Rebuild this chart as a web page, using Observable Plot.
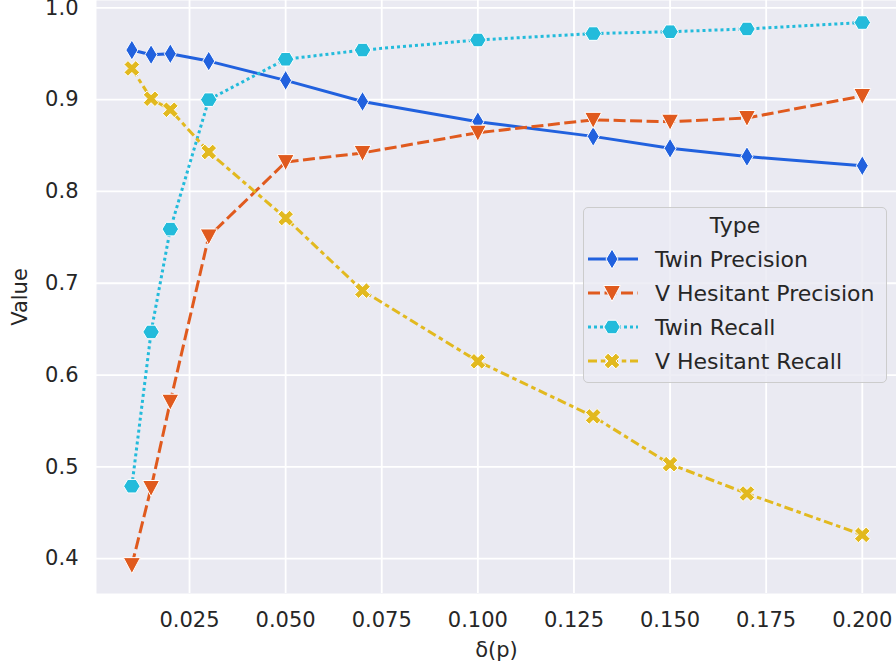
<!DOCTYPE html>
<html>
<head>
<meta charset="utf-8">
<script src="https://cdn.jsdelivr.net/npm/d3@7"></script>
<script src="https://cdn.jsdelivr.net/npm/@observablehq/plot@0.6"></script>
<style>
  html, body { margin: 0; padding: 0; background: #ffffff; }
  #wrap { position: relative; width: 896px; height: 670px; overflow: hidden; font-family: "DejaVu Sans", sans-serif; }
  #legend { position: absolute; left: 583px; top: 207px; width: 304px; height: 176px;
    background: rgba(234,234,242,0.8); border: 1px solid #cccccc; border-radius: 5px; box-sizing: border-box;
    color: #262626; font-size: 22px; }
  #legend .title { position: absolute; left: 0; width: 100%; top: 5px; text-align: center; }
  #legend .row { position: absolute; left: 3px; height: 30px; display: flex; align-items: center; }
  #legend .row svg { width: 52px; height: 30px; margin-right: 16px; }
</style>
</head>
<body>
<div id="wrap"><div id="legend"></div></div>
<script>
// ---- data ----
const deltas = [0.01, 0.015, 0.02, 0.03, 0.05, 0.07, 0.1, 0.13, 0.15, 0.17, 0.2];
const twinPrecision      = [0.954, 0.949, 0.950, 0.942, 0.921, 0.898, 0.876, 0.860, 0.847, 0.838, 0.828];
const vHesitantPrecision = [0.393, 0.477, 0.571, 0.751, 0.832, 0.842, 0.864, 0.878, 0.876, 0.880, 0.904];
const twinRecall         = [0.479, 0.647, 0.759, 0.900, 0.944, 0.954, 0.965, 0.972, 0.974, 0.977, 0.984];
const vHesitantRecall    = [0.934, 0.901, 0.889, 0.843, 0.771, 0.692, 0.615, 0.555, 0.503, 0.471, 0.426];
const seriesNames  = ["Twin Precision", "V Hesitant Precision", "Twin Recall", "V Hesitant Recall"];
const seriesValues = [twinPrecision, vHesitantPrecision, twinRecall, vHesitantRecall];
const seriesColors = ["#2161de", "#e05a1e", "#23bbdb", "#e2b91f"];
const seriesDashes = [null, "12,4.5", "3,3", "9,3.75,4.5,3.75"];
const xTicks = [0.025, 0.05, 0.075, 0.1, 0.125, 0.15, 0.175, 0.2];
const yTicks = [0.4, 0.5, 0.6, 0.7, 0.8, 0.9, 1.0];
const legendTitle = "Type";
const xLabel = "δ(p)";
const yLabel = "Value";

// ---- marker shapes ----
function poly(ctx, pts) { ctx.moveTo(pts[0][0], pts[0][1]); for (let i = 1; i < pts.length; i++) ctx.lineTo(pts[i][0], pts[i][1]); ctx.closePath(); }
const rOf = size => Math.sqrt(size / Math.PI);
const thinDiamond = { draw(ctx, size) { const s = rOf(size) / 8; poly(ctx, [[0,-10*s],[6*s,0],[0,10*s],[-6*s,0]]); } };
const triDown = { draw(ctx, size) { const s = rOf(size) / 8; poly(ctx, [[-8.5*s,-7.5*s],[8.5*s,-7.5*s],[0,8.5*s]]); } };
const hexFlat = { draw(ctx, size) { const r = rOf(size) * 1.03; const p = []; for (let k = 0; k < 6; k++) { const a = k*Math.PI/3; p.push([r*Math.cos(a), r*0.95*Math.sin(a)]); } poly(ctx, p); } };
const thickX = { draw(ctx, size) { const s = rOf(size) / 8; const a = 8.3*s, b = 2.8*s;
  const base = [[b,-b],[b,-a],[-b,-a],[-b,-b],[-a,-b],[-a,b],[-b,b],[-b,a],[b,a],[b,b],[a,b],[a,-b]];
  const c = Math.SQRT1_2; poly(ctx, base.map(([x,y]) => [c*(x - y), c*(x + y)])); } };
const seriesSymbols = [thinDiamond, triDown, hexFlat, thickX];

// ---- table ----
const rows = seriesNames.flatMap((name, i) => deltas.map((d, j) => ({ type: name, delta: d, value: seriesValues[i][j] })));

const marks = [
  Plot.frame({ fill: "#eaeaf2", stroke: null }),
  Plot.gridX(xTicks, { stroke: "#ffffff", strokeOpacity: 1, strokeWidth: 1.8 }),
  Plot.gridY(yTicks, { stroke: "#ffffff", strokeOpacity: 1, strokeWidth: 1.8 }),
  Plot.axisX(xTicks, { tickSize: 0, tickPadding: 18.5, tickFormat: d3.format(".3f"), label: null, fontSize: 21, fill: "#262626" }),
  Plot.axisY(yTicks, { tickSize: 0, tickPadding: 18, tickFormat: d3.format(".1f"), label: null, fontSize: 21, fill: "#262626" }),
  Plot.text([xLabel], { frameAnchor: "bottom", dy: 57, lineAnchor: "middle", text: d => d, fontSize: 21, fill: "#262626" }),
  Plot.text([yLabel], { frameAnchor: "left", dx: -76, rotate: -90, textAnchor: "middle", lineAnchor: "middle", text: d => d, fontSize: 21, fill: "#262626" })
];
seriesNames.forEach((name, i) => {
  const sub = rows.filter(r => r.type === name);
  marks.push(Plot.line(sub, { x: "delta", y: "value", stroke: seriesColors[i], strokeWidth: 3, strokeDasharray: seriesDashes[i] || undefined, strokeLinecap: "butt", strokeLinejoin: "round" }));
  marks.push(Plot.dot(sub, { x: "delta", y: "value", symbol: seriesSymbols[i], r: 8, fill: seriesColors[i], stroke: "#ffffff", strokeWidth: 1 }));
});

const chart = Plot.plot({
  width: 896, height: 670,
  marginLeft: 96, marginRight: 0, marginTop: 0, marginBottom: 77,
  style: { background: "#ffffff", fontFamily: "DejaVu Sans, sans-serif", fontSize: "21px", color: "#262626" },
  x: { domain: [0.0008, 0.2089] },
  y: { domain: [0.3621, 1.008] },
  marks
});
document.getElementById("wrap").prepend(chart);

// ---- legend ----
const legend = document.getElementById("legend");
const t = document.createElement("div"); t.className = "title"; t.textContent = legendTitle; legend.appendChild(t);
const rowTops = [36, 70, 104, 138];
seriesNames.forEach((name, i) => {
  const row = document.createElement("div"); row.className = "row"; row.style.top = rowTops[i] + "px";
  const svg = d3.create("svg").attr("viewBox", "0 0 52 30");
  svg.append("line").attr("x1", 1).attr("x2", 51).attr("y1", 15).attr("y2", 15)
    .attr("stroke", seriesColors[i]).attr("stroke-width", 3).attr("stroke-dasharray", seriesDashes[i]);
  const p = d3.path(); seriesSymbols[i].draw(p, Math.PI * 64);
  svg.append("path").attr("d", p.toString()).attr("transform", "translate(25,15)")
    .attr("fill", seriesColors[i]).attr("stroke", "#ffffff").attr("stroke-width", 1);
  row.appendChild(svg.node());
  const lab = document.createElement("span"); lab.textContent = name; row.appendChild(lab);
  legend.appendChild(row);
});
</script>
</body>
</html>
